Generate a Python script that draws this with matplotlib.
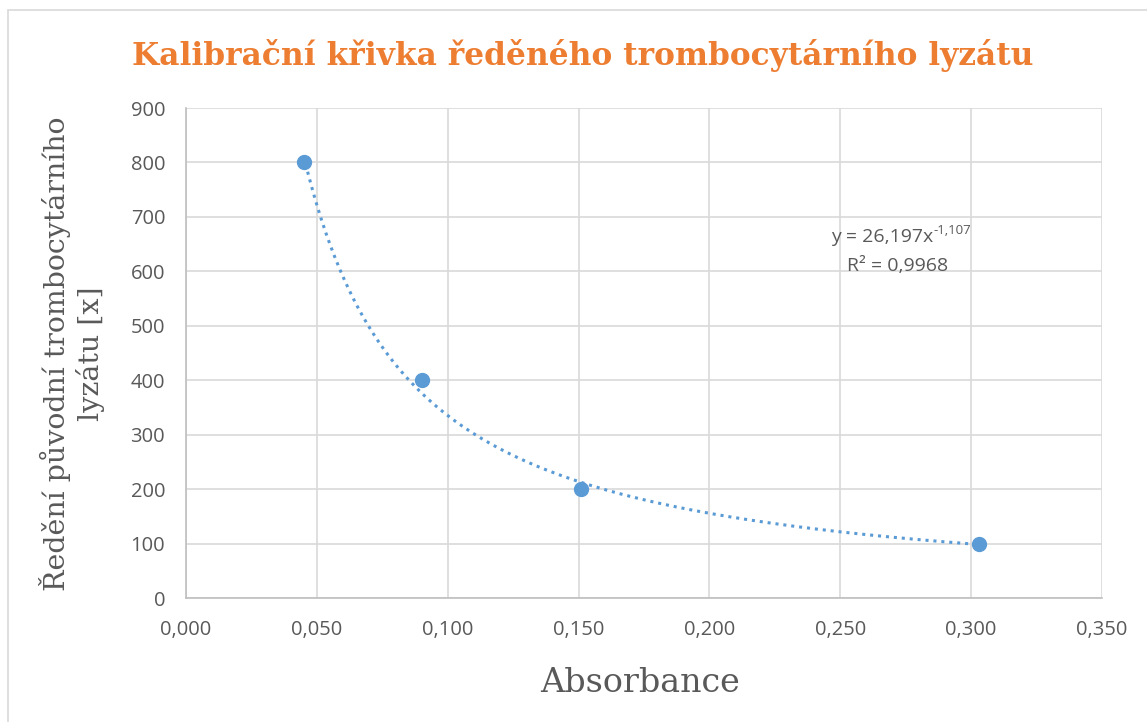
import numpy as np
import matplotlib
matplotlib.use("Agg")
import matplotlib.pyplot as plt
from matplotlib.patches import Rectangle

# Calibration data
absorbance = [0.045, 0.090, 0.151, 0.303]
dilution = [800, 400, 200, 100]

# Power trendline coefficients
coef_a = 26.197
coef_b = -1.107
r_squared = "0,9968"

x_ticks = [0.0, 0.05, 0.10, 0.15, 0.20, 0.25, 0.30, 0.35]
y_ticks = [0, 100, 200, 300, 400, 500, 600, 700, 800, 900]

title = "Kalibrační křivka ředěného trombocytárního lyzátu"
xlabel = "Absorbance"
ylabel = "Ředění původní trombocytárního\nlyzátu [x]"

blue = "#5B9BD5"
orange = "#ED7D31"
gray_text = "#595959"
grid_col = "#D9D9D9"

fig = plt.figure(figsize=(11.47, 7.22), dpi=100)
fig.patch.set_facecolor("white")

# chart frame
fig.patches.append(Rectangle((8 / 1147, -0.1), 1.2, (722 - 10) / 722 + 0.1,
                             transform=fig.transFigure, fill=False,
                             edgecolor="#D9D9D9", linewidth=1.2))

ax = fig.add_axes([186 / 1147, 124 / 722, (1102 - 186) / 1147, (598 - 108) / 722])
ax.set_xlim(0, 0.35)
ax.set_ylim(0, 900)
ax.set_xticks(x_ticks)
ax.set_yticks(y_ticks)
ax.set_xticklabels([f"{t:.3f}".replace(".", ",") for t in x_ticks])
ax.set_yticklabels([str(t) for t in y_ticks])
ax.grid(True, color=grid_col, linewidth=1.2)
ax.set_axisbelow(True)
for s in ["top", "right"]:
    ax.spines[s].set_visible(False)
for s in ["left", "bottom"]:
    ax.spines[s].set_color("#BFBFBF")
    ax.spines[s].set_linewidth(1.2)
ax.tick_params(length=0, labelsize=14.5, labelcolor=gray_text)
ax.tick_params(axis="x", pad=16)
ax.tick_params(axis="y", pad=15)
for lab in ax.get_xticklabels() + ax.get_yticklabels():
    lab.set_fontfamily("Open Sans")

# trendline
xs = np.linspace(min(absorbance), max(absorbance), 300)
ax.plot(xs, coef_a * xs ** coef_b, linestyle=(0, (1, 1.6)), color=blue,
        linewidth=2.2, zorder=2)
ax.plot(absorbance, dilution, "o", color=blue, markersize=10, zorder=3,
        clip_on=False)

# equation of the trendline, exponent as a raised smaller label
eq_x = 0.2854
ax.text(eq_x, 663, f"y = {coef_a:.3f}".replace(".", ",") + "x",
        ha="right", va="center", fontsize=14, color=gray_text,
        family="Open Sans")
ax.annotate(f"{coef_b:.3f}".replace(".", ","), xy=(eq_x, 663),
            xytext=(0.5, 5), textcoords="offset points", ha="left",
            va="center", fontsize=9.5, color=gray_text, family="Open Sans")
ax.text(0.272, 610, f"R² = {r_squared}", ha="center", va="center",
        fontsize=14, color=gray_text, family="Open Sans")

fig.text(583 / 1147, 1 - 55 / 722, title, ha="center", va="center",
         fontsize=22.5, color=orange, family="DejaVu Serif", weight="bold")
fig.text(640 / 1147, 1 - 683 / 722, xlabel, ha="center", va="center",
         fontsize=24, color=gray_text, family="DejaVu Serif")
fig.text(72 / 1147, 1 - 354 / 722, ylabel, ha="center", va="center",
         rotation=90, fontsize=20.5, color=gray_text, family="DejaVu Serif",
         linespacing=1.25)

fig.savefig("out.png", dpi=100)
